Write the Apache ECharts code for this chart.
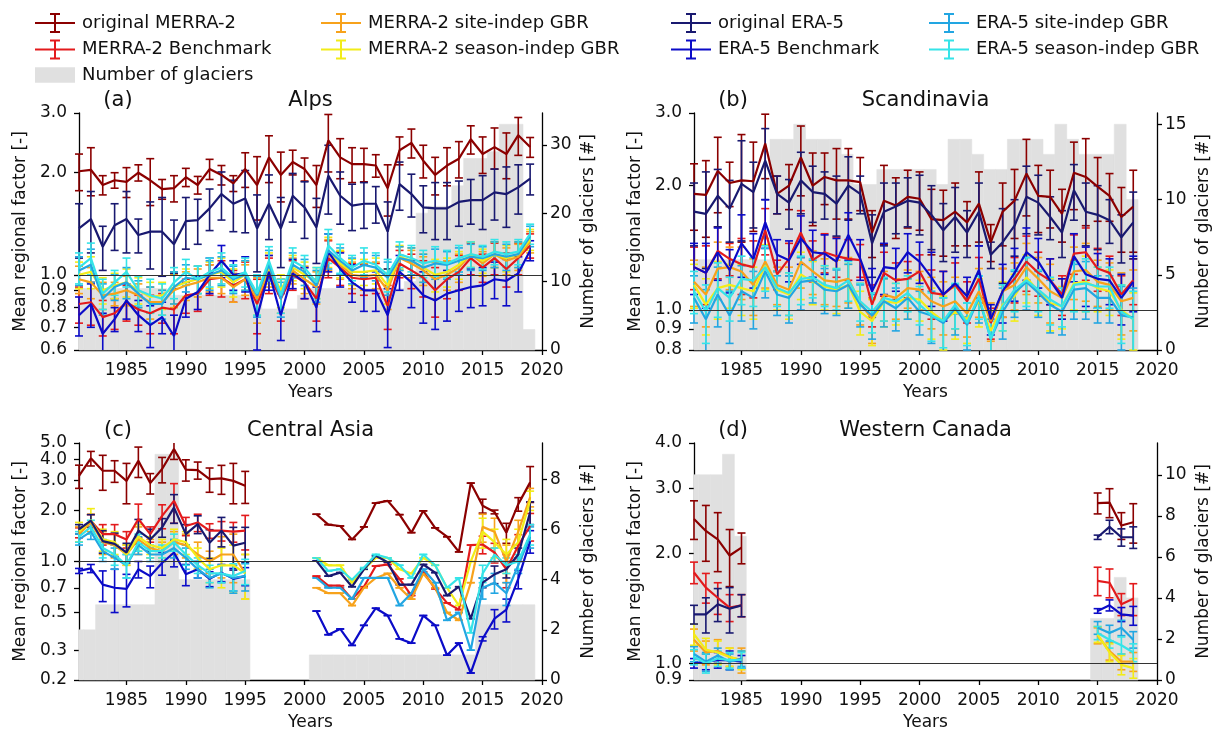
<!DOCTYPE html>
<html>
<head>
<meta charset="utf-8">
<script src="https://cdn.jsdelivr.net/npm/echarts@6/dist/echarts.min.js"></script>
<style>html,body{margin:0;padding:0;background:#fff}#main{width:1223px;height:736px}</style>
</head>
<body>
<div id="main"></div>
<script>
// ---------------- DATA ----------------
const SERIES_NAMES = ['original MERRA-2','MERRA-2 Benchmark','MERRA-2 site-indep GBR','MERRA-2 season-indep GBR',
                      'original ERA-5','ERA-5 Benchmark','ERA-5 site-indep GBR','ERA-5 season-indep GBR'];
const BAR_NAME = 'Number of glaciers';
const PANEL_TITLES = ['Alps','Scandinavia','Central Asia','Western Canada'];
const PANEL_TAGS = ['(a)','(b)','(c)','(d)'];
const X_TICKS = [1985,1990,1995,2000,2005,2010,2015,2020];

// (a) Alps
const A_YEARS = [1981,1982,1983,1984,1985,1986,1987,1988,1989,1990,1991,1992,1993,1994,1995,1996,1997,1998,1999,2000,2001,2002,2003,2004,2005,2006,2007,2008,2009,2010,2011,2012,2013,2014,2015,2016,2017,2018,2019];
const A_OM2 = [2.02,2.04,1.84,1.90,1.88,2.00,1.90,1.79,1.80,1.94,1.84,2.05,1.97,1.86,2.05,1.84,2.22,1.97,2.15,2.05,1.84,2.49,2.22,2.12,2.12,2.10,1.80,2.33,2.45,2.17,1.97,2.10,2.20,2.51,2.27,2.38,2.27,2.58,2.38];
const A_OM2_E = [0.25,0.33,0.12,0.10,0.19,0.11,0.30,0.12,0.16,0.12,0.11,0.14,0.13,0.10,0.24,0.39,0.35,0.33,0.18,0.16,0.26,0.48,0.30,0.25,0.24,0.16,0.31,0.22,0.24,0.24,0.25,0.27,0.27,0.24,0.28,0.33,0.35,0.33,0.16];
const A_BM2 = [0.82,0.83,0.75,0.77,0.83,0.79,0.77,0.80,0.79,0.87,0.88,0.97,0.98,0.93,0.97,0.82,1.00,0.85,1.00,0.95,0.85,1.12,1.05,0.98,0.97,0.98,0.81,1.08,1.03,0.98,0.90,0.97,1.02,1.12,1.05,1.12,1.04,1.12,1.22];
const A_BM2_E = [0.10,0.12,0.09,0.08,0.10,0.08,0.10,0.08,0.12,0.10,0.10,0.10,0.12,0.10,0.12,0.15,0.12,0.12,0.10,0.10,0.12,0.14,0.12,0.10,0.10,0.10,0.12,0.10,0.12,0.12,0.15,0.12,0.12,0.12,0.10,0.12,0.12,0.12,0.10];
const A_SM2 = [0.97,0.95,0.87,0.88,0.90,0.87,0.83,0.83,0.90,0.93,0.95,0.98,0.98,0.92,0.97,0.85,1.03,0.87,1.03,0.97,0.92,1.15,1.07,1.00,0.99,1.00,0.90,1.12,1.08,1.03,0.97,1.00,1.05,1.15,1.08,1.15,1.10,1.13,1.25];
const A_SM2_E = [0.09,0.10,0.08,0.07,0.09,0.07,0.09,0.07,0.10,0.09,0.09,0.09,0.10,0.09,0.10,0.13,0.11,0.10,0.09,0.09,0.10,0.12,0.10,0.09,0.09,0.09,0.11,0.09,0.10,0.10,0.12,0.10,0.10,0.10,0.09,0.10,0.10,0.10,0.09];
const A_QM2 = [1.00,1.02,0.90,0.93,0.95,0.90,0.86,0.87,0.92,0.95,0.97,1.00,1.02,0.95,1.00,0.88,1.05,0.90,1.05,1.00,0.95,1.17,1.08,1.02,1.02,1.03,0.93,1.13,1.10,1.05,1.00,1.02,1.07,1.15,1.10,1.15,1.12,1.15,1.27];
const A_QM2_E = [0.09,0.11,0.08,0.08,0.09,0.08,0.09,0.08,0.10,0.09,0.09,0.09,0.10,0.09,0.10,0.12,0.11,0.10,0.09,0.09,0.10,0.12,0.10,0.09,0.09,0.09,0.11,0.09,0.10,0.10,0.11,0.10,0.10,0.10,0.09,0.10,0.10,0.10,0.09];
const A_OE5 = [1.37,1.46,1.21,1.40,1.46,1.31,1.34,1.34,1.23,1.44,1.45,1.57,1.73,1.62,1.68,1.37,1.62,1.37,1.71,1.58,1.38,1.96,1.71,1.60,1.62,1.62,1.34,1.85,1.73,1.58,1.57,1.57,1.64,1.66,1.66,1.75,1.73,1.81,1.92];
const A_OE5_E = [0.25,0.30,0.18,0.22,0.30,0.15,0.30,0.35,0.22,0.25,0.22,0.22,0.28,0.28,0.35,0.35,0.35,0.32,0.28,0.30,0.30,0.45,0.30,0.25,0.25,0.20,0.30,0.30,0.25,0.25,0.30,0.30,0.25,0.25,0.30,0.30,0.35,0.30,0.20];
const A_BE5 = [0.76,0.82,0.67,0.74,0.84,0.76,0.71,0.75,0.66,0.85,0.89,1.00,1.10,1.00,1.01,0.75,1.02,0.76,1.01,0.95,0.80,1.17,1.04,0.95,0.90,0.90,0.76,1.02,0.95,0.87,0.84,0.88,0.90,0.92,0.93,0.97,0.96,1.01,1.18];
const A_BE5_E = [0.10,0.12,0.10,0.06,0.10,0.08,0.10,0.08,0.10,0.10,0.10,0.12,0.12,0.10,0.12,0.15,0.12,0.12,0.10,0.10,0.12,0.15,0.12,0.12,0.12,0.12,0.15,0.12,0.15,0.15,0.15,0.15,0.12,0.12,0.12,0.12,0.15,0.12,0.08];
const A_SE5 = [1.03,1.07,0.85,0.92,0.95,0.88,0.82,0.82,0.92,0.98,0.97,1.00,1.03,0.97,1.00,0.87,1.07,0.85,1.07,1.02,0.93,1.18,1.10,1.03,1.07,1.05,0.98,1.12,1.10,1.05,1.08,1.07,1.10,1.13,1.12,1.15,1.13,1.15,1.30];
const A_SE5_E = [0.10,0.12,0.09,0.08,0.10,0.08,0.10,0.08,0.10,0.09,0.09,0.10,0.10,0.09,0.10,0.12,0.11,0.10,0.09,0.09,0.10,0.14,0.10,0.09,0.09,0.09,0.11,0.09,0.10,0.10,0.11,0.10,0.10,0.10,0.09,0.10,0.10,0.10,0.09];
const A_QE5 = [1.05,1.12,0.88,0.95,1.02,0.90,0.87,0.85,0.95,1.02,0.97,1.02,1.05,0.98,1.02,0.88,1.10,0.87,1.10,1.05,0.95,1.22,1.12,1.05,1.10,1.07,1.00,1.15,1.12,1.08,1.10,1.08,1.12,1.15,1.13,1.17,1.15,1.17,1.32];
const A_QE5_E = [0.11,0.12,0.09,0.08,0.10,0.09,0.10,0.09,0.10,0.09,0.09,0.10,0.11,0.09,0.10,0.12,0.11,0.10,0.10,0.09,0.10,0.14,0.11,0.09,0.10,0.09,0.11,0.10,0.10,0.10,0.11,0.10,0.10,0.10,0.09,0.10,0.10,0.10,0.09];
const A_N = [9,9,9,9,9,9,9,9,8,8,8,8,8,8,8,8,6,6,6,8,9,9,9,9,9,9,9,9,10,20,21,21,24,28,28,29,33,33,3];

// (b) Scandinavia
const B_YEARS = [1981,1982,1983,1984,1985,1986,1987,1988,1989,1990,1991,1992,1993,1994,1995,1996,1997,1998,1999,2000,2001,2002,2003,2004,2005,2006,2007,2008,2009,2010,2011,2012,2013,2014,2015,2016,2017,2018];
const B_OM2 = [1.91,1.90,2.17,2.03,2.06,2.05,2.53,1.91,2.00,2.34,2.00,2.10,2.06,2.06,2.04,1.54,1.84,1.79,1.88,1.86,1.66,1.65,1.73,1.63,1.81,1.46,1.73,1.84,2.14,1.89,1.88,1.71,2.15,2.10,1.99,1.89,1.68,1.78];
const B_OM2_E = [0.35,0.40,0.45,0.25,0.60,0.50,0.45,0.20,0.25,0.45,0.40,0.30,0.40,0.40,0.30,0.20,0.40,0.30,0.30,0.30,0.30,0.30,0.30,0.20,0.35,0.15,0.30,0.35,0.45,0.35,0.30,0.25,0.40,0.50,0.35,0.25,0.30,0.40];
const B_BM2 = [1.27,1.23,1.39,1.33,1.29,1.27,1.56,1.22,1.33,1.54,1.32,1.38,1.35,1.33,1.32,1.03,1.23,1.18,1.19,1.24,1.10,1.09,1.15,1.05,1.19,0.93,1.11,1.19,1.31,1.23,1.18,1.09,1.37,1.38,1.26,1.23,1.09,1.18];
const B_BM2_E = [0.15,0.20,0.20,0.12,0.20,0.20,0.20,0.10,0.12,0.20,0.15,0.15,0.15,0.15,0.12,0.12,0.15,0.12,0.12,0.12,0.15,0.15,0.15,0.12,0.15,0.08,0.15,0.15,0.20,0.15,0.15,0.12,0.15,0.20,0.15,0.12,0.12,0.15];
const B_SM2 = [1.17,1.09,1.26,1.27,1.24,1.15,1.31,1.15,1.12,1.31,1.24,1.18,1.17,1.19,1.04,0.95,1.09,1.07,1.13,1.12,1.05,1.02,1.05,0.98,1.11,0.94,1.11,1.15,1.27,1.19,1.11,1.07,1.24,1.25,1.17,1.15,1.05,1.07];
const B_SM2_E = [0.15,0.18,0.20,0.15,0.18,0.18,0.18,0.12,0.15,0.18,0.15,0.15,0.15,0.15,0.12,0.12,0.15,0.12,0.12,0.12,0.15,0.15,0.15,0.12,0.15,0.10,0.15,0.15,0.18,0.15,0.18,0.12,0.18,0.20,0.15,0.15,0.18,0.18];
const B_QM2 = [1.15,1.03,1.13,1.15,1.13,1.11,1.28,1.12,1.09,1.22,1.17,1.14,1.12,1.15,0.99,0.94,1.05,1.04,1.07,1.06,0.99,0.94,0.99,0.95,1.05,0.89,1.03,1.08,1.20,1.11,1.04,1.02,1.16,1.17,1.13,1.11,1.00,0.95];
const B_QM2_E = [0.14,0.16,0.18,0.14,0.16,0.16,0.16,0.12,0.14,0.16,0.14,0.14,0.14,0.14,0.12,0.12,0.14,0.12,0.12,0.12,0.14,0.14,0.14,0.12,0.14,0.10,0.14,0.14,0.16,0.14,0.15,0.12,0.16,0.18,0.14,0.14,0.15,0.15];
const B_OE5 = [1.73,1.71,1.89,1.76,2.02,1.93,2.30,1.91,1.82,2.06,1.93,1.91,1.81,2.00,1.91,1.45,1.73,1.78,1.84,1.82,1.70,1.56,1.68,1.54,1.73,1.36,1.46,1.60,1.88,1.82,1.68,1.54,1.95,1.73,1.70,1.65,1.50,1.63];
const B_OE5_E = [0.30,0.45,0.30,0.30,0.55,0.35,0.45,0.20,0.25,0.35,0.30,0.25,0.30,0.35,0.20,0.25,0.30,0.25,0.25,0.30,0.30,0.25,0.30,0.20,0.30,0.10,0.30,0.25,0.35,0.30,0.20,0.20,0.30,0.30,0.30,0.20,0.20,0.30];
const B_BE5 = [1.27,1.23,1.38,1.25,1.45,1.33,1.63,1.36,1.32,1.49,1.38,1.37,1.31,1.52,1.33,1.11,1.27,1.26,1.38,1.31,1.20,1.09,1.16,1.08,1.25,0.95,1.11,1.23,1.38,1.31,1.18,1.07,1.35,1.22,1.19,1.18,1.07,1.17];
const B_BE5_E = [0.18,0.22,0.20,0.15,0.25,0.20,0.22,0.12,0.15,0.20,0.18,0.15,0.18,0.20,0.15,0.15,0.18,0.15,0.15,0.15,0.18,0.15,0.18,0.12,0.18,0.08,0.18,0.18,0.20,0.18,0.15,0.12,0.18,0.20,0.18,0.15,0.15,0.18];
const B_SE5 = [1.07,0.95,1.09,0.97,1.11,1.07,1.24,1.09,1.07,1.17,1.18,1.12,1.11,1.15,1.03,0.97,1.05,1.01,1.07,0.99,0.97,0.93,1.01,0.92,1.07,0.85,0.99,1.10,1.17,1.10,1.03,0.99,1.12,1.13,1.07,1.07,0.97,0.96];
const B_SE5_E = [0.14,0.17,0.18,0.14,0.17,0.17,0.17,0.12,0.14,0.17,0.14,0.14,0.14,0.14,0.12,0.12,0.14,0.12,0.12,0.12,0.14,0.14,0.14,0.12,0.14,0.10,0.14,0.14,0.17,0.14,0.15,0.12,0.17,0.18,0.14,0.14,0.17,0.17];
const B_QE5 = [1.11,0.99,1.13,1.07,1.19,1.18,1.27,1.13,1.10,1.19,1.20,1.15,1.13,1.18,1.05,0.99,1.07,1.05,1.10,1.03,0.97,0.94,1.03,0.93,1.08,0.85,1.02,1.12,1.18,1.12,1.06,1.02,1.15,1.16,1.14,1.14,0.99,0.95];
const B_QE5_E = [0.13,0.16,0.17,0.13,0.16,0.16,0.16,0.11,0.13,0.16,0.13,0.13,0.13,0.13,0.11,0.11,0.13,0.11,0.11,0.11,0.13,0.13,0.13,0.11,0.13,0.09,0.13,0.13,0.16,0.13,0.14,0.11,0.16,0.17,0.13,0.13,0.16,0.16];
const B_N = [6,6,6,6,6,6,6,14,14,15,14,14,14,13,11,11,12,12,12,12,12,11,14,14,13,12,12,14,14,14,13,15,14,13,13,13,15,10];

// (c) Central Asia
const C_YEARS = [1981,1982,1983,1984,1985,1986,1987,1988,1989,1990,1991,1992,1993,1994,1995,2001,2002,2003,2004,2005,2006,2007,2008,2009,2010,2011,2012,2013,2014,2015,2016,2017,2018,2019];
const C_OM2 = [3.20,4.06,3.43,3.43,2.99,3.93,2.90,3.51,4.60,3.48,3.46,3.06,3.09,2.99,2.80,1.90,1.65,1.62,1.35,1.60,2.21,2.28,1.89,1.48,1.99,1.58,1.40,1.14,2.90,2.13,1.96,1.48,2.18,2.93];
const C_OM2_E = [0.50,0.40,0.80,0.50,0.80,0.80,0.40,0.60,0.60,0.50,0.40,0.50,0.60,0.80,0.60,0,0,0,0,0,0,0,0,0,0,0,0,0,0,0.20,0.05,0.20,0.20,0.70];
const C_BM2 = [1.48,1.74,1.45,1.45,1.35,1.78,1.45,1.86,2.28,1.62,1.70,1.52,1.52,1.50,1.52,0.82,0.72,0.72,0.60,0.71,0.94,0.96,0.79,0.63,0.87,0.69,0.57,0.52,1.25,1.26,1.13,0.90,1.24,1.62];
const C_BM2_E = [0.10,0.15,0.20,0.20,0.15,0.40,0.15,0.30,0.60,0.20,0.20,0.15,0.20,0.20,0.35,0,0,0,0,0,0,0,0,0,0,0,0,0,0,0.15,0.15,0.20,0.20,0.30];
const C_SM2 = [1.45,1.70,1.30,1.25,1.10,1.35,1.20,1.15,1.30,1.25,1.10,1.00,1.10,1.10,0.85,0.70,0.65,0.65,0.55,0.70,0.80,0.85,0.70,0.60,0.85,0.70,0.50,0.45,0.75,1.60,1.50,1.00,1.50,2.40];
const C_SM2_E = [0.15,0.20,0.20,0.20,0.15,0.25,0.15,0.15,0.20,0.20,0.20,0.15,0.30,0.35,0.25,0,0,0,0,0,0,0,0,0,0,0,0,0,0,0.30,0.30,0.25,0.25,0.30];
const C_QM2 = [1.50,1.75,1.35,1.30,1.10,1.40,1.25,1.20,1.35,1.30,1.05,0.90,0.95,0.95,0.85,1.05,0.95,0.95,0.75,0.90,1.05,1.05,0.90,0.85,1.05,0.95,0.70,0.55,1.00,1.50,1.30,1.10,1.30,2.30];
const C_QM2_E = [0.20,0.30,0.20,0.20,0.15,0.25,0.15,0.15,0.20,0.20,0.15,0.15,0.25,0.30,0.25,0,0,0,0,0,0,0,0,0,0,0,0,0,0,0.30,0.25,0.25,0.25,0.30];
const C_OE5 = [1.55,1.74,1.32,1.27,1.13,1.52,1.35,1.59,2.08,1.45,1.66,1.29,1.52,1.24,1.29,1.01,0.82,0.86,0.71,0.90,1.08,0.99,0.73,0.73,0.96,0.86,0.63,0.71,0.46,0.75,0.84,0.90,1.10,1.95];
const C_OE5_E = [0.10,0.15,0.20,0.20,0.15,0.25,0.20,0.20,0.40,0.20,0.20,0.25,0.30,0.35,0.30,0,0,0,0,0,0,0,0,0,0,0,0,0,0,0.05,0.10,0.10,0.10,0.30];
const C_BE5 = [0.88,0.91,0.73,0.70,0.69,0.90,0.82,0.98,1.13,0.84,0.90,0.79,0.86,0.79,0.82,0.51,0.37,0.40,0.32,0.42,0.53,0.48,0.35,0.33,0.48,0.42,0.28,0.33,0.22,0.35,0.46,0.52,0.79,1.32];
const C_BE5_E = [0.03,0.05,0.15,0.20,0.15,0.10,0.12,0.15,0.20,0.12,0.10,0.08,0.10,0.12,0.10,0,0,0,0,0,0,0,0,0,0,0,0,0,0,0.01,0.06,0.08,0.10,0.20];
const C_SE5 = [1.35,1.50,1.15,1.05,0.95,1.25,1.10,1.10,1.20,1.05,0.90,0.80,0.85,0.80,0.82,0.80,0.70,0.70,0.60,0.80,0.80,0.80,0.55,0.65,0.90,0.75,0.45,0.50,0.30,0.70,0.75,0.65,0.95,1.40];
const C_SE5_E = [0.10,0.15,0.15,0.15,0.15,0.15,0.10,0.10,0.15,0.15,0.10,0.10,0.10,0.15,0.15,0,0,0,0,0,0,0,0,0,0,0,0,0,0,0.10,0.10,0.10,0.10,0.20];
const C_QE5 = [1.40,1.60,1.20,1.10,0.95,1.30,1.15,1.15,1.30,1.10,0.95,0.85,0.85,0.82,0.88,1.05,0.88,0.90,0.78,0.92,1.10,1.05,0.95,0.80,1.10,0.95,0.70,0.80,0.38,0.85,1.10,0.95,1.00,1.45];
const C_QE5_E = [0.10,0.15,0.15,0.15,0.15,0.15,0.10,0.10,0.15,0.15,0.10,0.10,0.10,0.15,0.15,0,0,0,0,0,0,0,0,0,0,0,0,0,0,0.10,0.10,0.10,0.10,0.20];
const C_N = [2,2,3,3,3,3,3,9,9,4,4,4,4,4,4,1,1,1,1,1,1,1,1,1,1,1,1,1,1,3,3,3,3,3];

// (d) Western Canada
const D_YEARS = [1981,1982,1983,1984,1985,2015,2016,2017,2018];
const D_OM2 = [2.48,2.30,2.18,1.97,2.07,2.74,2.75,2.38,2.43];
const D_OM2_E = [0.30,0.40,0.40,0.35,0.20,0.18,0.25,0.20,0.30];
const D_BM2 = [1.77,1.61,1.51,1.42,1.44,1.68,1.66,1.45,1.50];
const D_BM2_E = [0.12,0.15,0.15,0.12,0.10,0.15,0.15,0.10,0.15];
const D_SM2 = [1.16,1.07,1.08,1.04,1.02,1.19,1.08,1.01,1.01];
const D_SM2_E = [0.08,0.08,0.08,0.06,0.08,0.06,0.06,0.05,0.06];
const D_QM2 = [1.20,1.09,1.07,1.04,1.02,1.20,1.07,0.99,0.97];
const D_QM2_E = [0.08,0.08,0.08,0.06,0.06,0.06,0.06,0.06,0.06];
const D_OE5 = [1.36,1.36,1.45,1.41,1.44,2.21,2.36,2.21,2.21];
const D_OE5_E = [0.08,0.15,0.15,0.20,0.10,0.03,0.10,0.12,0.15];
const D_BE5 = [1.00,1.01,1.02,1.02,1.01,1.39,1.44,1.36,1.35];
const D_BE5_E = [0.03,0.05,0.05,0.06,0.04,0.02,0.05,0.06,0.08];
const D_SE5 = [1.06,1.01,1.05,1.01,1.03,1.25,1.21,1.25,1.16];
const D_SE5_E = [0.05,0.06,0.05,0.05,0.05,0.05,0.06,0.06,0.06];
const D_QE5 = [1.04,1.00,1.03,1.02,1.02,1.21,1.16,1.12,1.07];
const D_QE5_E = [0.05,0.06,0.05,0.05,0.05,0.05,0.06,0.06,0.06];
const D_N = [10,10,10,11,7,3,3,5,4];

// axis ranges and tick labels (second list per panel: labels that sit too close to an end label)
const Y_RANGES = [[0.6,3.0],[0.8,3.0],[0.2,5.0],[0.9,4.0]];
const Y_TICKS = [[0.6,0.7,0.8,0.9,1.0,2.0,3.0],[0.8,0.9,1.0,2.0,3.0],[0.2,0.3,0.5,0.7,1.0,2.0,3.0,5.0],[0.9,2.0,3.0,4.0]];
const Y_TICKS_CLOSE = [[],[],[4.0],[1.0]];
const N_MAX = [34.65,15.75,9.45,11.55];
const N_TICKS = [[0,10,20,30],[0,5,10,15],[0,2,4,6,8],[0,2,4,6,8,10]];

// ---------------- STYLE ----------------
const COLORS = ['#8b0000','#e31a1c','#f7a21b','#f2ec18','#191970','#0b0bc8','#22a6e2','#35e4e8'];
const BAR_COLOR = '#e0e0e0';
const FONT = 'DejaVu Sans';
const TXT = '#111';
const GRIDS = [
  {left:79, top:113, width:463, height:237},
  {left:694, top:113, width:463, height:237},
  {left:79, top:443, width:463, height:237},
  {left:694, top:443, width:463, height:237}
];

const PANELS = [
  {years:A_YEARS, vals:[A_OM2,A_BM2,A_SM2,A_QM2,A_OE5,A_BE5,A_SE5,A_QE5], errs:[A_OM2_E,A_BM2_E,A_SM2_E,A_QM2_E,A_OE5_E,A_BE5_E,A_SE5_E,A_QE5_E], n:A_N},
  {years:B_YEARS, vals:[B_OM2,B_BM2,B_SM2,B_QM2,B_OE5,B_BE5,B_SE5,B_QE5], errs:[B_OM2_E,B_BM2_E,B_SM2_E,B_QM2_E,B_OE5_E,B_BE5_E,B_SE5_E,B_QE5_E], n:B_N},
  {years:C_YEARS, vals:[C_OM2,C_BM2,C_SM2,C_QM2,C_OE5,C_BE5,C_SE5,C_QE5], errs:[C_OM2_E,C_BM2_E,C_SM2_E,C_QM2_E,C_OE5_E,C_BE5_E,C_SE5_E,C_QE5_E], n:C_N},
  {years:D_YEARS, vals:[D_OM2,D_BM2,D_SM2,D_QM2,D_OE5,D_BE5,D_SE5,D_QE5], errs:[D_OM2_E,D_BM2_E,D_SM2_E,D_QM2_E,D_OE5_E,D_BE5_E,D_SE5_E,D_QE5_E], n:D_N}
];

// ---------------- RENDER HELPERS ----------------
function renderBar(params, api) {
  const yr = api.value(0), n = api.value(1);
  const p0 = api.coord([yr - 0.6, n]);
  const p1 = api.coord([yr + 0.4, 0]);
  const cs = params.coordSys;
  const r = echarts.graphic.clipRectByRect(
    {x:p0[0], y:p0[1], width:p1[0]-p0[0], height:p1[1]-p0[1]},
    {x:cs.x, y:cs.y, width:cs.width, height:cs.height});
  if (!r) return;
  return {type:'rect', shape:r, style:{fill:api.visual('color'), stroke:api.visual('color'), lineWidth:0.6}};
}
function renderErr(params, api) {
  const yr = api.value(0);
  const lo = Math.max(api.value(1), 1e-3), hi = api.value(2);
  const pt = api.coord([yr, hi]), pb = api.coord([yr, lo]);
  const cs = params.coordSys;
  const top = Math.max(pt[1], cs.y), bot = Math.min(pb[1], cs.y + cs.height);
  const color = api.visual('color');
  const st = {stroke:color, lineWidth:1.6, fill:null};
  const kids = [];
  if (bot > top) kids.push({type:'line', shape:{x1:pt[0], y1:top, x2:pt[0], y2:bot}, style:st});
  const cw = 4;
  if (pt[1] >= cs.y - 0.5 && pt[1] <= cs.y + cs.height + 0.5) kids.push({type:'line', shape:{x1:pt[0]-cw, y1:pt[1], x2:pt[0]+cw, y2:pt[1]}, style:st});
  if (pb[1] >= cs.y - 0.5 && pb[1] <= cs.y + cs.height + 0.5) kids.push({type:'line', shape:{x1:pb[0]-cw, y1:pb[1], x2:pb[0]+cw, y2:pb[1]}, style:st});
  return {type:'group', children:kids};
}
function lineData(years, vals) {
  const out = [];
  for (let i = 0; i < years.length; i++) {
    if (i > 0 && years[i] - years[i-1] > 1) out.push([years[i-1] + 1, null]);
    out.push([years[i], vals[i]]);
  }
  return out;
}
// keep end ticks of a log axis just inside its extent (floating point)
function insideTicks(ticks, lo, hi) {
  return ticks.map(t => t <= lo ? t * 1.000001 : (t >= hi ? t * 0.999999 : t));
}

// ---------------- OPTION ----------------
const grid = [], xAxis = [], yAxis = [], series = [], graphic = [];
const txtStyle = {fontSize:17, color:TXT, fontFamily:FONT};
const axLine = {show:true, onZero:false, lineStyle:{color:'#000', width:1.3}};

PANELS.forEach((P, p) => {
  const g = GRIDS[p];
  grid.push(Object.assign({containLabel:false}, g));
  xAxis.push({
    type:'value', gridIndex:p, min:1981, max:2020,
    axisLine:axLine,
    axisTick:{show:true, length:5, customValues:X_TICKS, lineStyle:{color:'#000', width:1.3}},
    axisLabel:Object.assign({customValues:X_TICKS, margin:12, showMinLabel:true, showMaxLabel:true, formatter:v => String(Math.round(v))}, txtStyle),
    splitLine:{show:false},
    name:'Years', nameLocation:'middle', nameGap:34, nameTextStyle:txtStyle
  });
  const yt = insideTicks(Y_TICKS[p], Y_RANGES[p][0], Y_RANGES[p][1]);
  // main log axis (index 3p)
  yAxis.push({
    type:'log', logBase:10, gridIndex:p, position:'left', min:Y_RANGES[p][0], max:Y_RANGES[p][1],
    axisLine:axLine,
    axisTick:{show:true, length:5, customValues:yt, lineStyle:{color:'#000', width:1.3}},
    axisLabel:Object.assign({customValues:yt, margin:12, showMinLabel:true, showMaxLabel:true, formatter:v => Number(v).toFixed(1)}, txtStyle),
    splitLine:{show:false}, minorTick:{show:false},
    name:'Mean regional factor [-]', nameLocation:'middle', nameGap:50, nameRotate:90, nameTextStyle:txtStyle
  });
  // glacier count axis (index 3p+1)
  yAxis.push({
    type:'value', gridIndex:p, position:'right', min:0, max:N_MAX[p],
    axisLine:axLine,
    axisTick:{show:true, length:5, customValues:N_TICKS[p], lineStyle:{color:'#000', width:1.3}},
    axisLabel:Object.assign({customValues:N_TICKS[p], margin:8}, txtStyle),
    splitLine:{show:false},
    name:'Number of glaciers [#]', nameLocation:'middle', nameGap:38, nameRotate:90, nameTextStyle:txtStyle
  });
  // companion log axis carrying the crowded labels (index 3p+2), same scale
  const close = Y_TICKS_CLOSE[p];
  yAxis.push({
    type:'log', logBase:10, gridIndex:p, position:'left', min:Y_RANGES[p][0], max:Y_RANGES[p][1],
    show: close.length > 0,
    axisLine:{show:false},
    axisTick:{show:true, length:5, customValues:close, lineStyle:{color:'#000', width:1.3}},
    axisLabel:Object.assign({customValues:close, margin:12, formatter:v => Number(v).toFixed(1)}, txtStyle),
    splitLine:{show:false}, minorTick:{show:false}
  });
  series.push({
    type:'custom', name:BAR_NAME, xAxisIndex:p, yAxisIndex:3*p+1,
    data:P.years.map((y,i) => [y, P.n[i]]), encode:{x:0, y:1},
    renderItem:renderBar, itemStyle:{color:BAR_COLOR}, z:1, silent:true
  });
  for (let s = 0; s < 8; s++) {
    const v = P.vals[s], e = P.errs[s];
    series.push({
      type:'custom', name:SERIES_NAMES[s], xAxisIndex:p, yAxisIndex:3*p,
      data:P.years.map((y,i) => [y, v[i]-e[i], v[i]+e[i]]), encode:{x:0, y:[1,2]},
      renderItem:renderErr, itemStyle:{color:COLORS[s]}, z:2, silent:true
    });
    const ls = {
      type:'line', name:SERIES_NAMES[s], xAxisIndex:p, yAxisIndex:3*p,
      data:lineData(P.years, v), showSymbol:false, symbol:'none', connectNulls:false,
      lineStyle:{width:2.2, color:COLORS[s]}, itemStyle:{color:COLORS[s]}, z:2, silent:true
    };
    if (s === 0) {
      ls.markLine = {silent:true, symbol:'none', label:{show:false},
        lineStyle:{color:'#333', width:1, type:'solid'}, data:[{yAxis:1.0}]};
    }
    series.push(ls);
  }
  const cx = g.left + g.width / 2;
  graphic.push({type:'text', x:g.left + 39, y:g.top - 12, style:{text:PANEL_TAGS[p], fill:TXT, font:'21px "DejaVu Sans"', align:'center', verticalAlign:'middle'}});
  graphic.push({type:'text', x:cx, y:g.top - 12, style:{text:PANEL_TITLES[p], fill:TXT, font:'21px "DejaVu Sans"', align:'center', verticalAlign:'middle'}});
});

const EB_ICON = 'path://M0,9L40,9L40,11L0,11ZM19,1L21,1L21,19L19,19ZM15,0L25,0L25,2L15,2ZM15,18L25,18L25,20L15,20Z';
const RECT_ICON = 'path://M2,3L38,3L38,17L2,17Z';
const legTxt = {fontSize:18, color:TXT, fontFamily:FONT, padding:[0,0,0,2]};
function legendCol(left, names) {
  return {orient:'vertical', left:left, top:8, itemWidth:40, itemHeight:20, itemGap:6.5, selectedMode:false,
    textStyle:legTxt, data:names.map(n => ({name:n, icon: n === BAR_NAME ? RECT_ICON : EB_ICON}))};
}
const legend = [
  legendCol(30, [SERIES_NAMES[0], SERIES_NAMES[1], BAR_NAME]),
  legendCol(316, [SERIES_NAMES[2], SERIES_NAMES[3]]),
  legendCol(666, [SERIES_NAMES[4], SERIES_NAMES[5]]),
  legendCol(924, [SERIES_NAMES[6], SERIES_NAMES[7]])
];

const chart = echarts.init(document.getElementById('main'), null, {renderer:'canvas'});
chart.setOption({animation:false, backgroundColor:'#fff', textStyle:{fontFamily:FONT}, grid, xAxis, yAxis, series, legend, graphic});
</script>
</body>
</html>
